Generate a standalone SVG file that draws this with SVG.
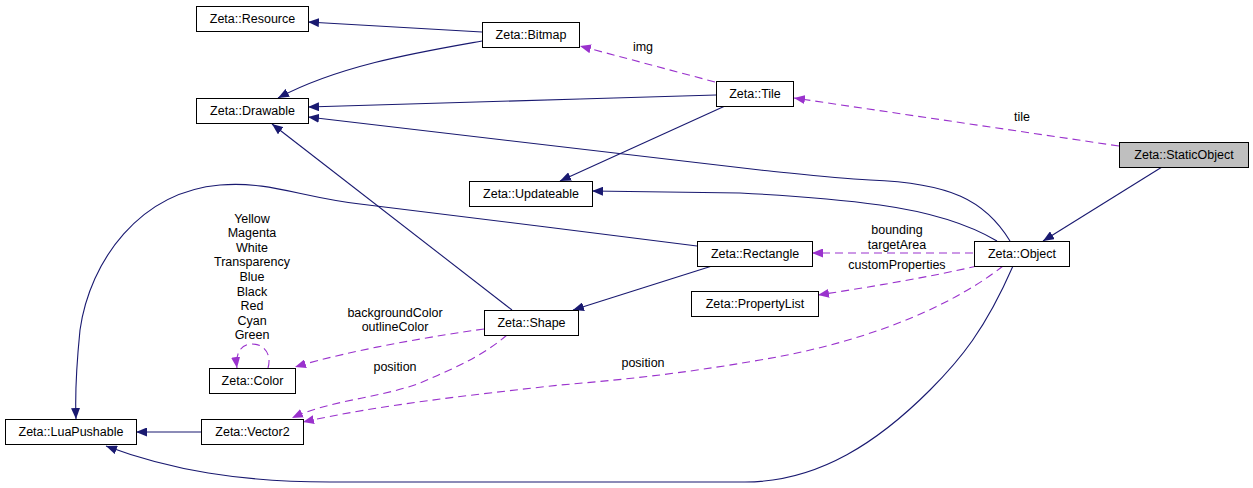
<svg xmlns="http://www.w3.org/2000/svg" width="1253" height="488" viewBox="0 0 1253 488">
<style>
.node rect{fill:#fff;stroke:#000;stroke-width:1}
.node.hl rect{fill:#bfbfbf}
text{font-family:"Liberation Sans",Arial,sans-serif;font-size:12.5px;fill:#000}
.node text{text-anchor:middle}
.lbl{text-anchor:middle}
.inh{fill:none;stroke:#191970;stroke-width:1.1;marker-end:url(#an)}
.use{fill:none;stroke:#9a32cd;stroke-width:1.1;stroke-dasharray:8,5;marker-end:url(#ap)}
</style>
<defs>
<marker id="an" markerUnits="userSpaceOnUse" markerWidth="12" markerHeight="9" refX="11" refY="4.5" orient="auto"><path d="M0,0 L11,4.5 L0,9 z" fill="#191970"/></marker>
<marker id="ap" markerUnits="userSpaceOnUse" markerWidth="12" markerHeight="9" refX="11" refY="4.5" orient="auto"><path d="M0,0 L11,4.5 L0,9 z" fill="#9a32cd"/></marker>
</defs>
<rect width="1253" height="488" fill="#fff"/>
<g id="connectors">
<path class="inh" d="M482,32 L308,22"/>
<path class="inh" d="M482,41 C420,52 340,65 278,98"/>
<path class="inh" d="M716,95 L580,99 L308,107"/>
<path class="inh" d="M1010,241 C985,200 950,183 870,180 C830,178 800,174 760,170 L308,117"/>
<path class="inh" d="M725,106 L560,181"/>
<path class="inh" d="M997,241 C970,225 930,212 880,205 C830,198 780,195 740,193 L592,191"/>
<path class="inh" d="M1162,167 L1043,241"/>
<path class="inh" d="M512,310 L272,124"/>
<path class="inh" d="M712,266 L573,310"/>
<path class="inh" d="M697,246 C600,234 430,212 360,204 C300,197 270,181 220,185 C140,192 90,260 80,330 C76,370 75,395 76,419"/>
<path class="inh" d="M1013,266 C985,330 960,360 930,390 C880,440 820,482 745,482 L330,482 C240,482 170,470 106,446"/>
<path class="inh" d="M201,432 L136,432"/>
<path class="use" d="M715,82 L580,46"/>
<path class="use" d="M1119,146 L794,98"/>
<path class="use" d="M973,253 L812,253"/>
<path class="use" d="M977,266 C930,277 870,287 818,295"/>
<path class="use" d="M1003,266 C960,300 880,340 760,360 C680,374 620,380 560,385 C470,395 380,405 303,422"/>
<path class="use" d="M484,329 C440,335 350,350 295,367"/>
<path class="use" d="M507,335 C480,358 450,370 420,383 C380,398 330,400 292,418"/>
<path class="use" d="M268,368 C272,354 264,344 252,344 C242,344 235,352 237,368"/>
<text class="lbl" x="643" y="51">img</text>
<text class="lbl" x="1022" y="121">tile</text>
<text class="lbl" x="897" y="234">bounding</text>
<text class="lbl" x="897" y="248.6">targetArea</text>
<text class="lbl" x="897" y="268.5">customProperties</text>
<text class="lbl" x="643" y="367">position</text>
<text class="lbl" x="395" y="316.5">backgroundColor</text>
<text class="lbl" x="395" y="331">outlineColor</text>
<text class="lbl" x="395" y="371">position</text>
<text class="lbl" x="252" y="222.5">Yellow</text>
<text class="lbl" x="252" y="237.1">Magenta</text>
<text class="lbl" x="252" y="251.7">White</text>
<text class="lbl" x="252" y="266.3">Transparency</text>
<text class="lbl" x="252" y="280.9">Blue</text>
<text class="lbl" x="252" y="295.5">Black</text>
<text class="lbl" x="252" y="310.1">Red</text>
<text class="lbl" x="252" y="324.7">Cyan</text>
<text class="lbl" x="252" y="339.3">Green</text>
</g>
<g id="Resource" class="node"><rect x="196.5" y="6.5" width="112" height="25"/><text x="252.5" y="23">Zeta::Resource</text></g>
<g id="Bitmap" class="node"><rect x="482.5" y="22.5" width="97" height="25"/><text x="531" y="39">Zeta::Bitmap</text></g>
<g id="Drawable" class="node"><rect x="196.5" y="98.5" width="112" height="25"/><text x="252.5" y="115">Zeta::Drawable</text></g>
<g id="Tile" class="node"><rect x="716.5" y="81.5" width="77" height="25"/><text x="755" y="98">Zeta::Tile</text></g>
<g id="StaticObject" class="node hl"><rect x="1119.5" y="142.5" width="129" height="25"/><text x="1184" y="159">Zeta::StaticObject</text></g>
<g id="Updateable" class="node"><rect x="469.5" y="181.5" width="123" height="25"/><text x="531" y="198">Zeta::Updateable</text></g>
<g id="Rectangle" class="node"><rect x="697.5" y="241.5" width="115" height="25"/><text x="755" y="258">Zeta::Rectangle</text></g>
<g id="Object" class="node"><rect x="974.5" y="241.5" width="95" height="25"/><text x="1022" y="258">Zeta::Object</text></g>
<g id="PropertyList" class="node"><rect x="691.5" y="291.5" width="127" height="25"/><text x="755" y="308">Zeta::PropertyList</text></g>
<g id="Shape" class="node"><rect x="484.5" y="310.5" width="94" height="25"/><text x="531.5" y="327">Zeta::Shape</text></g>
<g id="Color" class="node"><rect x="209.5" y="368.5" width="86" height="25"/><text x="252.5" y="385">Zeta::Color</text></g>
<g id="Vector2" class="node"><rect x="201.5" y="419.5" width="102" height="25"/><text x="252.5" y="436">Zeta::Vector2</text></g>
<g id="LuaPushable" class="node"><rect x="5.5" y="419.5" width="131" height="25"/><text x="71" y="436">Zeta::LuaPushable</text></g>
</svg>
